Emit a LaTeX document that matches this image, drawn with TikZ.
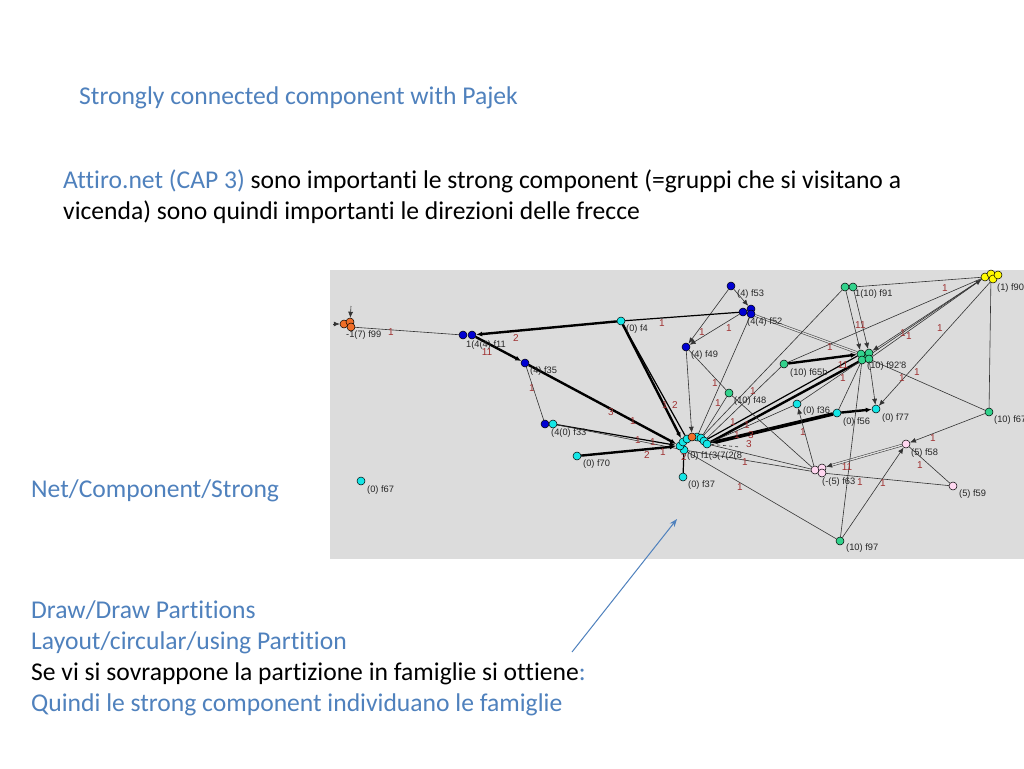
\documentclass[tikz,border=0pt]{standalone}
\usepackage{fontspec}
\setmainfont{Carlito}[Ligatures=NoCommon]
\newfontfamily\pajekfont{Liberation Sans}
\usetikzlibrary{arrows.meta}
\definecolor{slideblue}{RGB}{79,129,189}
\definecolor{pajekgray}{RGB}{220,220,220}
\definecolor{pcyan}{RGB}{20,230,230}
\definecolor{pgreen}{RGB}{50,210,140}
\definecolor{pblue}{RGB}{0,0,210}
\definecolor{ppink}{RGB}{255,215,240}
\definecolor{pyellow}{RGB}{255,250,0}
\definecolor{porange}{RGB}{240,110,40}
\definecolor{ered}{RGB}{160,50,50}
\pgfdeclarelayer{bg}
\pgfdeclarelayer{edges}
\pgfsetlayers{bg,edges,main}
\tikzset{
  slidetext/.style={font=\fontsize{25.6}{30.7}\selectfont, inner sep=0pt, anchor=base west},
  vtx/.style={circle, draw=black, line width=0.5pt, minimum size=8pt, inner sep=0pt},
  vc/.style={vtx, fill=pcyan},
  vg/.style={vtx, fill=pgreen},
  vb/.style={vtx, fill=pblue},
  vp/.style={vtx, fill=ppink},
  vy/.style={vtx, fill=pyellow},
  vo/.style={vtx, fill=porange},
  plab/.style={font=\pajekfont\fontsize{9.3}{10}\selectfont, inner sep=0pt, anchor=base west, text=black!85},
  elab/.style={font=\pajekfont\fontsize{10}{10}\selectfont, text=ered, inner sep=0pt},
  ethin/.style={draw=black!80, line width=0.6pt},
  emed/.style={draw=black, line width=1.2pt},
  ethick/.style={draw=black, line width=2.4pt},
  evthick/.style={draw=black, line width=3.6pt},
  arr/.style={-{Latex[length=6pt,width=5pt]}},
  dbl/.style={draw=black!80, double=pajekgray, double distance=1.4pt, line width=0.5pt},
}
\begin{document}
\begin{tikzpicture}[x=1pt,y=-1pt]
\useasboundingbox (0,0) rectangle (1024,768);
\begin{pgfonlayer}{bg}
\fill[white] (0,0) rectangle (1024,768);
\fill[pajekgray] (330,270) rectangle (1024,559);
\end{pgfonlayer}

% slide texts
\node[slidetext, text=slideblue] (title) at (79,104) {Strongly connected component with Pajek};
\node[slidetext] (intro1) at (63,188) {\textcolor{slideblue}{Attiro.net (CAP 3)} sono importanti le strong component (=gruppi che si visitano a};
\node[slidetext] (intro2) at (63,219) {vicenda) sono quindi importanti le direzioni delle frecce};
\node[slidetext, text=slideblue] (netcomp) at (31,497) {Net/Component/Strong};
\node[slidetext, text=slideblue] (drawpart) at (31,618) {Draw/Draw Partitions};
\node[slidetext, text=slideblue] (layout) at (31,649) {Layout/circular/using Partition};
\node[slidetext] (sovr) at (31,680) {Se vi si sovrappone la partizione in famiglie si ottiene\textcolor{slideblue}{:}};
\node[slidetext, text=slideblue] (quindi) at (31,711) {Quindi le strong component individuano le famiglie};

% vertices
\node[vo] (f99a) at (344,324) {};
\node[vo] (f99b) at (350,322) {};
\node[vo] (f99c) at (351,327) {};
\node[vb] (f11a) at (463,335) {};
\node[vb] (f11b) at (472,335) {};
\node[vb] (f35) at (525,363) {};
\node[vb] (f33a) at (545,424) {};
\node[vc] (f33b) at (553,424) {};
\node[vc] (f70) at (577,456) {};
\node[vc] (f67) at (361,481) {};
\node[vc] (f37) at (683,477) {};
\node[vc] (f4) at (621,321) {};
\node[vb] (f53) at (731,286) {};
\node[vb] (f52a) at (743,312) {};
\node[vb] (f52b) at (751,309) {};
\node[vb] (f52c) at (751,314) {};
\node[vb] (f49) at (686,347) {};
\node[vg] (f48) at (729,393) {};
\node[vg] (f65b) at (784,364) {};
\node[vc] (f36) at (797,404) {};
\node[vc] (f56) at (837,413) {};
\node[vc] (f77) at (876,409) {};
\node[vg] (f91a) at (845,287) {};
\node[vg] (f91b) at (853,287) {};
\node[vg] (f92e) at (866,356) {};
\node[vg] (f92a) at (861,354) {};
\node[vg] (f92b) at (869,353) {};
\node[vg] (f92c) at (862,360) {};
\node[vg] (f92d) at (869,359) {};
\node[vy] (f90a) at (985,277) {};
\node[vy] (f90b) at (991,274) {};
\node[vy] (f90c) at (993,279) {};
\node[vy] (f90d) at (998,275) {};
\node[vg] (f67r) at (989,412) {};
\node[vp] (f58) at (906,444) {};
\node[vp] (f59) at (953,486) {};
\node[vp] (f63a) at (815,470) {};
\node[vp] (f63b) at (822,468) {};
\node[vp] (f63c) at (822,473) {};
\node[vg] (f97) at (840,541) {};
% hub (circular strong component)
\node[vc] (h9) at (684,450) {};
\node[vc] (h1) at (680,446) {};
\node[vc] (h2) at (683,442) {};
\node[vc] (h3) at (687,439) {};
\node[vc] (h5) at (697,437) {};
\node[vo] (h4) at (692,437) {};
\node[vc] (h6) at (701,438) {};
\node[vc] (h7) at (704,441) {};
\node[vc] (h8) at (707,444) {};
\coordinate (dashend) at (740,447);
\coordinate (f99top) at (351,306);
\coordinate (f99left) at (333,324);

% edges
\begin{pgfonlayer}{edges}
\draw[ethin] (f99c) -- (f11a);
\draw[ethin, arr] (f99top) -- (f99b);
\draw[ethin, arr] (f99left) -- (f99a);
\draw[ethick, arr] (f4) -- (f11b);
\draw[ethick, arr] (f11b) -- (f35);
\draw[ethick, arr] (f35) -- (h1);
\draw[ethin] (f35) -- (f33a);
\draw[emed, arr] (f33b) -- (h1);
\draw[ethin] (f33b) -- (h9);
\draw[ethick, arr] (f70) -- (h1);
\draw[ethick, arr] (f4) -- (h2);
\draw[emed] (f4) -- (h3);
\draw[ethin, arr] (f49) -- (h4);
\draw[ethin, arr] (f53) -- (f49);
\draw[ethin, arr] (f52a) -- (f49);
\draw[ethin, arr] (f53) -- (f52b);
\draw[emed] (f52a) -- (f4);
\draw[ethin] (f52c) -- (h5);
\draw[dbl] (f52c) -- (f92a);
\draw[ethin] (f49) -- (f48);
\draw[ethin] (f48) -- (h6);
\draw[ethin] (f65b) -- (h7);
\draw[ethick, arr] (f65b) -- (f92a);
\draw[ethick] (f92c) -- (h8);
\draw[emed] (f92a) -- (h7);
\draw[ethin, arr] (f91a) -- (f92a);
\draw[ethin, arr] (f91b) -- (f92b);
\draw[ethin] (f91a) -- (h6);
\draw[ethin, arr] (f90a) -- (f92b);
\draw[ethin, arr] (f92d) -- (f90a);
\draw[ethin] (f90a) -- (f91b);
\draw[ethin] (f90a) -- (f65b);
\draw[ethin] (f90a) -- (f36);
\draw[ethin, arr] (f90c) -- (f77);
\draw[ethin] (f90b) -- (f67r);
\draw[ethin] (f67r) -- (f92d);
\draw[ethin, arr] (f67r) -- (f58);
\draw[ethin] (f92c) -- (f56);
\draw[ethin, arr] (f92d) -- (f77);
\draw[evthick, arr] (f56) -- (h8);
\draw[ethin] (f36) -- (h8);
\draw[ethick, arr] (f56) -- (f77);
\draw[ethin, arr] (f63a) -- (f36);
\draw[dbl, arr] (f58) -- (f63b);
\draw[ethin] (f59) -- (f63c);
\draw[ethin] (f58) -- (f59);
\draw[ethin, arr] (f97) -- (f58);
\draw[ethin] (f97) -- (f92c);
\draw[ethin] (h9) -- (f97);
\draw[ethin] (h8) -- (f63a);
\draw[ethin] (h9) -- (f63c);
\draw[ethin] (f48) -- (f63a);
\draw[emed] (f37) -- (h9);
\draw[ethin, dashed] (h8) -- (dashend);
\end{pgfonlayer}

% vertex labels
\node[plab] (lf99) at (346,337) {-1(7) f99};
\node[plab] (lf11) at (466,347) {1(4(4) f11};
\node[plab] (lf35) at (530,373) {(4) f35};
\node[plab] (lf33) at (551,435) {(4(0) f33};
\node[plab] (lf70) at (583,466) {(0) f70};
\node[plab] (lf67) at (367,492) {(0) f67};
\node[plab] (lf37) at (688,487) {(0) f37};
\node[plab] (lhub) at (687,458) {(0) f1(3(7(2(8};
\node[plab] (lf4) at (626,331) {(0) f4};
\node[plab] (lf53) at (737,296) {(4) f53};
\node[plab] (lf52) at (747,324) {(4(4) f52};
\node[plab] (lf49) at (691,357) {(4) f49};
\node[plab] (lf48) at (734,403) {(10) f48};
\node[plab] (lf65b) at (790,375) {(10) f65b};
\node[plab] (lf36) at (803,413) {(0) f36};
\node[plab] (lf56) at (843,424) {(0) f56};
\node[plab] (lf77) at (882,420) {(0) f77};
\node[plab] (lf67r) at (994,422) {(10) f67};
\node[plab] (lf58) at (911,455) {(5) f58};
\node[plab] (lf59) at (959,496) {(5) f59};
\node[plab] (lf63) at (822,484) {(-(5) f63};
\node[plab] (lf97) at (846,550) {(10) f97};
\node[plab] (lf91) at (855,296) {1(10) f91};
\node[plab] (lf92) at (867,368) {(10) f92'8};
\node[plab] (lf90) at (997,290) {(1) f90};

% edge labels
\node[elab] (e1) at (391,332) {1};
\node[elab] (e2) at (516,338) {2};
\node[elab] (e3) at (487,352) {11};
\node[elab] (e4) at (532,388) {1};
\node[elab] (e5) at (662,323) {1};
\node[elab] (e6) at (702,332) {1};
\node[elab] (e7) at (729,328) {1};
\node[elab] (e8) at (715,383) {1};
\node[elab] (e9) at (718,403) {1};
\node[elab] (e10) at (665,405) {1};
\node[elab] (e11) at (675,405) {2};
\node[elab] (e12) at (611,412) {3};
\node[elab] (e13) at (753,391) {1};
\node[elab] (e14) at (633,421) {1};
\node[elab] (e15) at (638,440) {1};
\node[elab] (e16) at (653,442) {1};
\node[elab] (e17) at (647,455) {2};
\node[elab] (e18) at (663,452) {1};
\node[elab] (e19) at (684,457) {2};
\node[elab] (e20) at (733,422) {1};
\node[elab] (e21) at (747,425) {1};
\node[elab] (e22) at (737,435) {1};
\node[elab] (e23) at (751,435) {3};
\node[elab] (e24) at (740,487) {1};
\node[elab] (e25) at (945,288) {1};
\node[elab] (e26) at (858,325) {1};
\node[elab] (e27) at (863,325) {1};
\node[elab] (e28) at (830,347) {1};
\node[elab] (e29) at (903,333) {1};
\node[elab] (e30) at (909,336) {1};
\node[elab] (e31) at (940,328) {1};
\node[elab] (e32) at (917,372) {1};
\node[elab] (e33) at (902,378) {1};
\node[elab] (e34) at (843,365) {11};
\node[elab] (e35) at (843,378) {1};
\node[elab] (e36) at (933,438) {1};
\node[elab] (e37) at (920,465) {1};
\node[elab] (e38) at (860,482) {1};
\node[elab] (e39) at (883,483) {1};
\node[elab] (e40) at (803,432) {1};
\node[elab] (e41) at (847,467) {11};
\node[elab] (e42) at (745,462) {1};
\node[elab] (e43) at (749,444) {3};

% pointer arrow
\coordinate (ptail) at (572,652);
\coordinate (phead) at (677,519);
\draw[slideblue, line width=1pt, -{Stealth[length=8pt,width=6pt]}] (ptail) -- (phead);
\end{tikzpicture}
\end{document}
